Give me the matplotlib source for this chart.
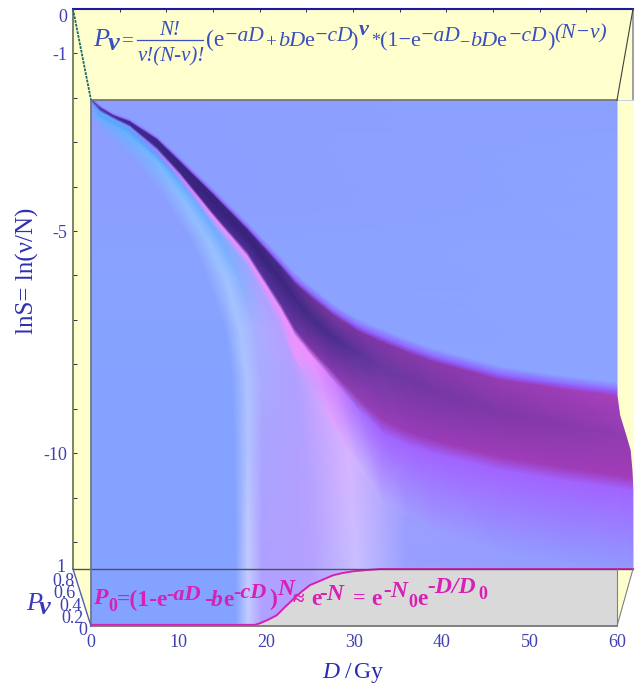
import numpy as np
import matplotlib
matplotlib.use('Agg')
import matplotlib.pyplot as plt
from matplotlib.colors import to_rgba

W, H = 638, 684

# front face: D 0..60 runs over 91..617 px, the surface bulges out to D=61.8
D_END = 61.82

ridge_D = [0, 1.0, 2.5, 4.4, 7.5, 10.1, 13.9, 17.8, 21.6, 23.3, 25.0, 27.6, 30.5, 33.3, 36.2, 39.0, 46.7, 54.3, 60.0, 61.82]
ridge_top = [-2.05, -2.23, -2.41, -2.55, -2.95, -3.45, -4.19, -4.98, -5.81, -6.20, -6.49, -6.90, -7.27, -7.52, -7.75, -7.95, -8.36, -8.58, -8.72, -8.76]
ridge_core = [-2.05, -2.24, -2.41, -2.57, -3.00, -3.52, -4.32, -5.15, -6.10, -6.55, -6.95, -7.40, -7.78, -8.10, -8.37, -8.60, -9.10, -9.40, -9.60, -9.65]
ridge_bottom = [-2.05, -2.27, -2.43, -2.61, -3.11, -3.67, -4.59, -5.47, -6.64, -7.23, -7.64, -8.18, -8.78, -9.26, -9.53, -9.71, -10.09, -10.34, -10.50, -10.56]
fade_top = [0.05, 0.07, 0.07, 0.08, 0.10, 0.12, 0.15, 0.18, 0.22, 0.24, 0.25, 0.25, 0.28, 0.30, 0.30, 0.30, 0.30, 0.30, 0.30, 0.30]
under_gap = [0.05, 0.05, 0.05, 0.05, 0.07, 0.07, 0.08, 0.10, 0.12, 0.14, 0.15, 0.20, 0.25, 0.30, 0.30, 0.30, 0.30, 0.30, 0.30, 0.30]
fade_bottom = [0.05, 0.08, 0.10, 0.10, 0.15, 0.15, 0.20, 0.25, 0.40, 0.50, 0.60, 1.00, 1.30, 1.50, 1.60, 1.70, 1.80, 1.80, 1.80, 1.80]

col_bg = ['#8ca2ff'] * 20
col_fringe = ['#9060ff'] * 20
col_top = ['#5a50c0', '#4a3aa8', '#3f2c98', '#3c2a90', '#3a2888', '#3a2684', '#3a2680', '#3c2680', '#4a2c8a', '#5a3090',
           '#6a3498', '#7a38a0', '#7c36a4', '#8038a8', '#8639aa', '#8a3aac', '#963cb4', '#a03eb8', '#a840bc', '#a840bc']
col_core = ['#5a50c0', '#4a3aa8', '#402c98', '#3c2a90', '#3a2888', '#38247e', '#38227a', '#38227a', '#3c267e', '#402886',
            '#442c88', '#4a2e8c', '#5a349a', '#6a3aa0', '#7038a2', '#7438a4', '#8038a8', '#883aac', '#903cb0', '#903cb0']
col_bottom = ['#5a60d0', '#4a48b8', '#4038a8', '#3c2a90', '#3a2888', '#3c2684', '#44288a', '#50309a', '#5c34a0', '#7036a4',
              '#8038a8', '#883ab0', '#9440b4', '#9a3cb8', '#9a3cb8', '#9a3cb8', '#a03cb8', '#a03cb8', '#a23cb8', '#a23cb8']
col_under = ['#7090ff', '#70a0ff', '#70a0ff', '#8090ff', '#a080ff', '#d080ff', '#f090ff', '#f090ff', '#f090ff', '#f090ff',
             '#f090ff', '#d080ff', '#a870ff', '#a264ff', '#a264ff', '#a264ff', '#a264ff', '#a264ff', '#a264ff', '#a264ff']
col_outer = ['#8c9eff', '#55aaff', '#55aaff', '#55aaff', '#55aaff', '#60acff', '#7aacff', '#90acff', '#b8a0ff', '#e898ff',
             '#c8a0ff', '#e0a8ff', '#d0b8ff', '#b4a8ff', '#a09fff', '#9c9cff', '#949cff', '#919bff', '#919bff', '#919bff']

# ---- the background sheet: one row per lnS level, one column per band
base_lnS = [-2.05, -2.39, -2.73, -3.40, -4.30, -5.20, -6.10, -7.23, -8.36, -9.93, -12.61, -13.9]
band_D = [
    [0, 0.1, 0.2, 0.3, 0.4, 0.5, 0.6, D_END],
    [0, 0.1, 0.7, 1.0, 1.4, 1.5, 1.7, D_END],
    [0, 1.0, 3.6, 4.4, 4.9, 5.1, 5.6, D_END],
    [0, 4.8, 7.3, 8.4, 9.0, 9.2, 9.9, D_END],
    [0, 8.4, 10.5, 12.0, 12.8, 13.1, 14.1, D_END],
    [0, 11.3, 13.3, 14.7, 15.9, 16.8, 18.1, D_END],
    [0, 13.3, 15.5, 17.0, 19.0, 19.8, 22.7, D_END],
    [0, 15.3, 17.0, 18.7, 21.6, 23.6, 28.4, D_END],
    [0, 16.1, 17.8, 19.5, 23.3, 27.0, 35.2, D_END],
    [0, 16.4, 17.9, 19.5, 24.4, 29.3, 36.0, D_END],
    [0, 16.5, 17.9, 19.5, 25.0, 30.3, 36.0, D_END],
    [0, 16.5, 17.9, 19.5, 25.0, 30.3, 36.0, D_END],
]
band_colors = [
    ['#8c9eff', '#8c9eff', '#8c9eff', '#8c9eff', '#8c9eff', '#8c9eff', '#8c9eff', '#8ca2ff'],
    ['#8c9eff', '#8c9eff', '#5ab0ff', '#50a8ff', '#50a8ff', '#6080ff', '#8c9eff', '#8ca2ff'],
    ['#8c9eff', '#8c9eff', '#68b0ff', '#50a8ff', '#50a8ff', '#7080ff', '#8c9eff', '#8ca2ff'],
    ['#8c9eff', '#8c9eff', '#78b8ff', '#55aaff', '#55aaff', '#9080ff', '#8c9eff', '#8ca4ff'],
    ['#8c9eff', '#8c9eff', '#90bcff', '#60acff', '#64a8ff', '#e090ff', '#8c9eff', '#8ca4ff'],
    ['#8aa0ff', '#8aa0ff', '#98c0ff', '#78b0ff', '#8ca8ff', '#e890ff', '#8ca2ff', '#8ca4ff'],
    ['#88a2ff', '#88a2ff', '#a0c4ff', '#88b0ff', '#b0a0ff', '#f090ff', '#8ca2ff', '#8ca4ff'],
    ['#86a2ff', '#86a2ff', '#a8c4ff', '#a8b0ff', '#b8a0ff', '#f090ff', '#8ca2ff', '#8ca4ff'],
    ['#84a2ff', '#84a2ff', '#aec4ff', '#aaaaff', '#b0a0ff', '#e8a0ff', '#8ca4ff', '#8ca4ff'],
    ['#84a2ff', '#84a2ff', '#b4c4ff', '#aaa4ff', '#b4a0ff', '#d8b4ff', '#9f9cff', '#9a90ff'],
    ['#84a2ff', '#84a2ff', '#c4ccff', '#b0a0ff', '#b4a0ff', '#c8c0ff', '#98a0ff', '#919bff'],
    ['#84a2ff', '#84a2ff', '#c4ccff', '#b0a0ff', '#b4a0ff', '#c8c0ff', '#98a0ff', '#919bff'],
]

# ---- right hand outline of the surface
edge_D = [60, 60, 60.3, 61.0, 61.5, 61.7, 61.82, 61.82]
edge_lnS = [-2.05, -8.70, -9.14, -9.59, -9.93, -10.38, -10.83, -12.61]

# ---- P0 curve in the lower panel
p0_D = [0, 18.7, 19.3, 20.2, 21.2, 22.1, 23.0, 24.0, 25.0, 26.1, 27.6, 28.7, 29.9, 31.3, 33.0, 60.0, 61.82]
p0_val = [0.02, 0.02, 0.05, 0.11, 0.19, 0.33, 0.46, 0.60, 0.72, 0.79, 0.89, 0.93, 0.96, 0.98, 1.0, 1.0, 1.0]

dose_ticks = [0, 10, 20, 30, 40, 50, 60]
lnS_ticks = list(range(0, -13, -1))
lnS_labels = {0: '0', -1: '-1', -5: '-5', -10: '-10'}
p_labels = ['1', '0.8', '0.6', '0.4', '0.2', '0']

YELLOW = '#ffffcd'
BLUE_TXT = '#3a50c0'
TICK_TXT = '#4040b0'
PINK = '#d820b4'
SERIF = 'Liberation Serif'


def px_axes(fig, x0, y0, x1, y1, **kw):
    return fig.add_axes([x0 / W, 1 - y1 / H, (x1 - x0) / W, (y1 - y0) / H], **kw)


fig = plt.figure(figsize=(W / 100, H / 100), dpi=100)

# back wall with the lnS axis
back = px_axes(fig, 73, 9, 633, 569, zorder=1, facecolor=YELLOW)
back.set_xlim(0, 60)
back.set_ylim(-12.61, 0)
back.set_xticks(np.arange(0, 61, 5))
back.set_xticklabels([])
back.xaxis.tick_top()
back.set_yticks(lnS_ticks)
back.set_yticklabels([lnS_labels.get(t, '') for t in lnS_ticks], family=SERIF, fontsize=13, color=TICK_TXT)
back.get_yticklabels()[0].set_va('top')
back.tick_params(axis='x', direction='in', length=2.5, width=0.7, color='#303040')
back.tick_params(axis='y', direction='in', length=3, width=0.7, color='#303030', pad=4)
back.spines['top'].set(color='#1a1a9a', lw=1.5)
back.spines['left'].set(color='#707860', lw=1.3)
back.spines['right'].set(color='#9a9a9a', lw=1.3)
back.spines['bottom'].set_visible(False)

# the density sheet
sheet = px_axes(fig, 91, 100, 633, 626, zorder=2)
sheet.patch.set_alpha(0)
sheet.set_xlim(0, D_END)
sheet.set_ylim(-13.9, -2.05)
sheet.axis('off')

base_rgb = np.array([[to_rgba(c) for c in row] for row in band_colors])
base_y = np.repeat(np.array(base_lnS)[:, None], len(band_D[0]), axis=1)
sheet.pcolormesh(np.array(band_D), base_y, base_rgb, shading='gouraud', zorder=1)

top = np.array(ridge_top)
bottom = np.array(ridge_bottom)
fade = np.array(fade_top)
under = bottom - np.array(under_gap)
ridge_y = np.array([top + fade, top + 0.35 * fade, top, np.array(ridge_core), bottom, under, under - np.array(fade_bottom)])
ridge_x = np.repeat(np.array(ridge_D)[None, :], 7, axis=0)
rows = [col_bg, col_fringe, col_top, col_core, col_bottom, col_under, col_outer]
ridge_rgb = np.array([[to_rgba(c) for c in row] for row in rows])
sheet.pcolormesh(ridge_x, ridge_y, ridge_rgb, shading='gouraud', zorder=2)

sheet.fill_betweenx(edge_lnS, edge_D, D_END + 1, color=YELLOW, lw=0, zorder=3)

# lower panel with P0
panel = px_axes(fig, 91, 569, 633, 626, zorder=3)
panel.patch.set_alpha(0)
panel.set_xlim(0, D_END)
panel.set_ylim(0, 1)
for s in panel.spines.values():
    s.set_visible(False)
panel.set_yticks([])
panel.set_xticks(dose_ticks)
panel.set_xticklabels(dose_ticks, family=SERIF, fontsize=13, color=TICK_TXT)
panel.tick_params(axis='x', length=0, pad=6)
p0_front = np.array(p0_D) <= 60
panel.fill_between(np.array(p0_D)[p0_front], 0, np.array(p0_val)[p0_front], color='#d9d9d9', lw=0, zorder=1)
panel.plot(p0_D, p0_val, color=PINK, lw=1.4, zorder=3, clip_on=False)

# frame lines and all the lettering, in pixels
over = px_axes(fig, 0, 0, W, H, zorder=4)
over.patch.set_alpha(0)
over.set_xlim(0, W)
over.set_ylim(H, 0)
over.axis('off')
over.fill([73, 91, 91], [569, 569, 626], color=YELLOW, lw=0, zorder=0)
over.fill([617, 633, 617], [569, 569, 626], color=YELLOW, lw=0, zorder=0)
over.fill([633, 633, 617], [569, 626, 626], color='white', lw=0, zorder=0)
over.plot([91, 617], [100, 100], color='#707070', lw=1.2)
over.plot([91, 91], [100, 626], color='#707880', lw=1.3)
over.plot([73, 633], [569, 569], color='#505058', lw=1.0, zorder=1)
over.plot([91, 617], [626, 626], color='#707070', lw=1.2)
over.plot([617, 617], [569, 626], color='#808080', lw=0.8)
over.plot([73, 91], [9, 100], color='#1a6a6a', lw=1.3, ls=(0, (1.5, 0.6)))
over.plot([633, 617], [9, 100], color='#404040', lw=0.8)
over.plot([73, 91], [569, 626], color='#5060a8', lw=1.0)
over.plot([633, 617], [569, 626], color='#808080', lw=0.8)
over.plot([137, 203], [39.5, 39.5], color=BLUE_TXT, lw=0.9)


def put(x, y, s, size, style='normal', weight='normal', color=BLUE_TXT, ha='left'):
    over.text(x, y, s, fontsize=size, family=SERIF, style=style, weight=weight, color=color, ha=ha, va='baseline')


# top formula
put(93, 46, 'P', 19, 'italic')
put(108, 50, '\u03bd', 19, 'italic', 'bold')
put(122, 46, '=', 15)
put(170, 35, 'N!', 15, 'italic', ha='center')
put(171, 61, '\u03bd!(N-\u03bd)!', 15, 'italic', ha='center')
put(206, 46, '(e', 17)
put(224, 41, '\u2212aD', 15.5, 'italic')
put(265, 47, '+', 14)
put(278, 46, 'bD', 16, 'italic')
put(304, 46, 'e', 16)
put(314, 41, '\u2212cD', 15.5, 'italic')
put(350, 46, ')', 16)
put(359, 35, '\u03bd', 16, 'italic', 'bold')
put(371, 46, '*', 13)
put(380, 46, '(1\u2212e', 16)
put(420, 41, '\u2212aD', 15.5, 'italic')
put(459, 46, '\u2212', 13)
put(470, 46, 'bD', 16, 'italic')
put(496, 46, 'e', 16)
put(508, 41, '\u2212cD', 15.5, 'italic')
put(547, 46, ')', 16)
put(554, 38, '(N\u2212\u03bd)', 15.5, 'italic')

# bottom formula
put(93, 604, 'P', 17, 'italic', 'bold', PINK)
put(108, 611, '0', 13, 'normal', 'bold', PINK)
put(117, 606, '=(1-e', 17, 'normal', 'bold', PINK)
put(167, 600, '-aD', 16, 'italic', 'bold', PINK)
put(204, 606, '-', 17, 'normal', 'bold', PINK)
put(211, 606, 'b', 17, 'italic', 'bold', PINK)
put(223, 606, 'e', 17, 'normal', 'bold', PINK)
put(234, 598, '-cD', 16, 'italic', 'bold', PINK)
put(269, 605, ')', 17, 'normal', 'bold', PINK)
put(277, 595, 'N', 17, 'italic', 'bold', PINK)
put(293, 605, '\u2248', 15, 'normal', 'bold', PINK)
put(311, 605, 'e', 17, 'normal', 'bold', PINK)
put(320, 600, '-N', 17, 'italic', 'bold', PINK)
put(353, 604, '=', 16, 'normal', 'bold', PINK)
put(371, 605, 'e', 17, 'normal', 'bold', PINK)
put(383, 597, '-N', 17, 'italic', 'bold', PINK)
put(408, 607, '0', 13, 'normal', 'bold', PINK)
put(417, 605, 'e', 17, 'normal', 'bold', PINK)
put(428, 593, '-D/D', 17, 'italic', 'bold', PINK)
put(478, 599, '0', 13, 'normal', 'bold', PINK)

# slanted P axis labels
for (x, y), s in zip([(61, 572), (63, 586), (65, 598), (70, 611), (73, 623), (83, 635)], p_labels):
    put(x, y, s, 13, color=TICK_TXT, ha='center')
put(26, 610, 'P', 19, 'italic', color='#3a3ab8')
put(39, 614, '\u03bd', 19, 'italic', 'bold', color='#3a3ab8')

# axis titles
over.text(27, 271, 'lnS= ln(\u03bd/N)', fontsize=18, family=SERIF, color='#3030b0', rotation=90, ha='center', va='center')
put(322, 678, 'D', 17, 'italic', color='#2a2ab0')
put(345, 678, '/', 17, color='#2a2ab0')
put(354, 678, 'Gy', 17, color='#2a2ab0')

fig.savefig('out.png', dpi=100)
